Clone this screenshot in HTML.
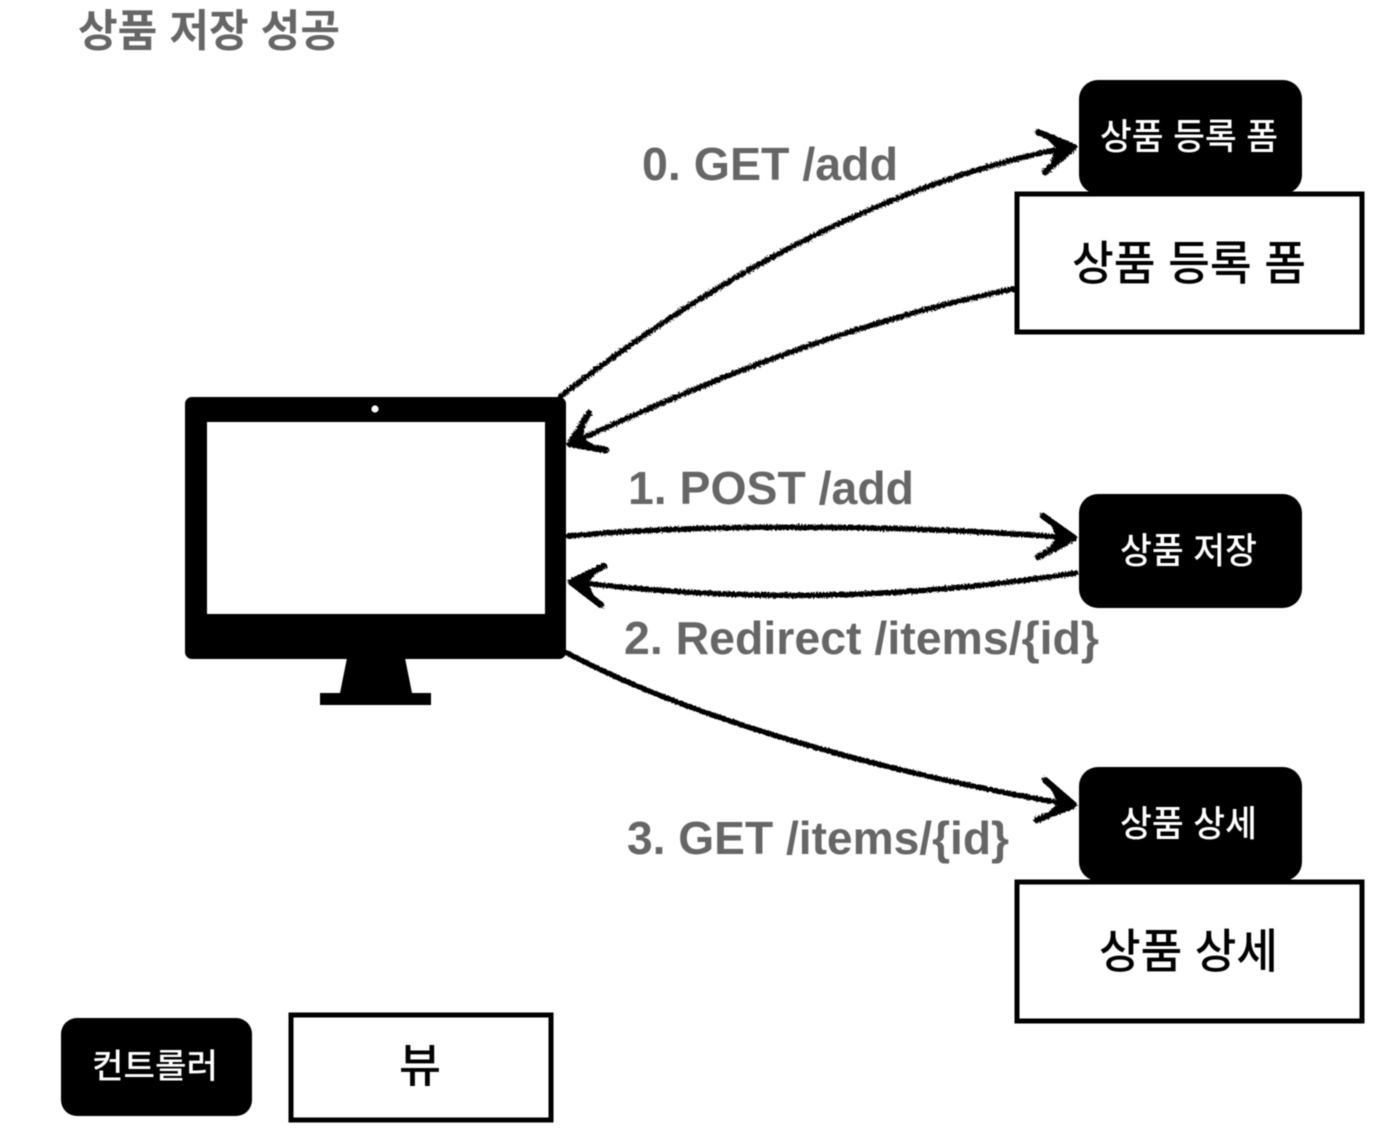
<!DOCTYPE html>
<html lang="ko"><head><meta charset="utf-8">
<style>
html,body{margin:0;padding:0;background:#fff;width:1392px;height:1128px;overflow:hidden}
svg{display:block;filter:blur(.45px)}
.g{font-family:"Liberation Sans","Noto Sans CJK KR",sans-serif;font-weight:700;fill:#666}
.k{font-family:"Liberation Sans","Noto Sans CJK KR",sans-serif;font-weight:500;fill:#000;text-anchor:start}
.w{fill:#fff}
</style></head><body>
<svg width="1392" height="1128" viewBox="0 0 1392 1128" xmlns="http://www.w3.org/2000/svg">
<defs>
<filter id="rough" x="-5%" y="-20%" width="110%" height="140%" filterUnits="objectBoundingBox">
<feTurbulence type="fractalNoise" baseFrequency="0.6" numOctaves="2" seed="4" result="n"/>
<feDisplacementMap in="SourceGraphic" in2="n" scale="4.5"/>
</filter>
</defs>
<rect width="1392" height="1128" fill="#fff"/>

<text class="g" x="78" y="46" font-size="44" textLength="262" lengthAdjust="spacingAndGlyphs">상품 저장 성공</text>

<!-- monitor -->
<rect x="185" y="397" width="381" height="262" rx="7" fill="#000"/>
<rect x="207" y="422" width="338" height="192" fill="#fff"/>
<circle cx="375" cy="409" r="3.6" fill="#fff"/>
<path d="M347 658H405L412 693H431V705H320V693H340Z" fill="#000"/>

<!-- controllers -->
<rect x="1079" y="80" width="223" height="114" rx="19" fill="#000"/>
<rect x="1079" y="494" width="223" height="114" rx="19" fill="#000"/>
<rect x="1079" y="767" width="223" height="114" rx="19" fill="#000"/>
<rect x="61" y="1018" width="191" height="98" rx="16" fill="#000"/>

<!-- views -->
<rect x="1017" y="194" width="345" height="138" fill="#fff" stroke="#000" stroke-width="5"/>
<rect x="1017" y="882" width="345" height="139" fill="#fff" stroke="#000" stroke-width="5"/>
<rect x="291" y="1015" width="260" height="105" fill="#fff" stroke="#000" stroke-width="5"/>

<!-- labels in boxes -->
<text class="k w" x="1100" y="149" font-size="36" textLength="178" lengthAdjust="spacingAndGlyphs">상품 등록 폼</text>
<text class="k" x="1072" y="280" font-size="47" textLength="234" lengthAdjust="spacingAndGlyphs">상품 등록 폼</text>
<text class="k w" x="1120" y="563" font-size="36" textLength="137" lengthAdjust="spacingAndGlyphs">상품 저장</text>
<text class="k w" x="1120" y="836" font-size="36" textLength="137" lengthAdjust="spacingAndGlyphs">상품 상세</text>
<text class="k" x="1099" y="968" font-size="47" textLength="179" lengthAdjust="spacingAndGlyphs">상품 상세</text>
<text class="k w" x="92" y="1078" font-size="34" textLength="126" lengthAdjust="spacingAndGlyphs">컨트롤러</text>
<text class="k" x="399" y="1082" font-size="46" textLength="42" lengthAdjust="spacingAndGlyphs">뷰</text>

<!-- connector labels -->
<text class="g" x="642" y="180" font-size="46" textLength="256" lengthAdjust="spacingAndGlyphs">0. GET /add</text>
<text class="g" x="628" y="504" font-size="46" textLength="286" lengthAdjust="spacingAndGlyphs">1. POST /add</text>
<text class="g" x="624" y="654" font-size="46" textLength="475" lengthAdjust="spacingAndGlyphs">2. Redirect /items/{id}</text>
<text class="g" x="627" y="854" font-size="46" textLength="382" lengthAdjust="spacingAndGlyphs">3. GET /items/{id}</text>

<!-- connectors -->
<g filter="url(#rough)" fill="none" stroke="#000" stroke-width="5.4" stroke-linecap="round" stroke-linejoin="round">
<path d="M561 396C700 288 880 183 1070 147"/>
<path d="M1038 132L1074 147L1045 172" stroke-width="6.5"/>
<path d="M1013 289C860 320 720 375 572 443"/>
<path d="M589 413L570 444L606 450" stroke-width="6.5"/>
<path d="M568 536C700 524 900 524 1072 538"/>
<path d="M1043 516L1074 538L1038 557" stroke-width="6.5"/>
<path d="M1076 573C900 600 740 602 574 582"/>
<path d="M604 566L571 582L601 605" stroke-width="6.5"/>
<path d="M567 653C690 718 880 772 1072 805"/>
<path d="M1045 780L1074 805L1037 820" stroke-width="6.5"/>
</g>
<g fill="#000" filter="url(#rough)">
<path d="M1046 138L1075 147L1050 163L1056 148Z"/>
<path d="M587 420L570 444L600 448L582 438Z"/>
<path d="M1050 522L1075 538L1046 552L1056 537Z"/>
<path d="M598 571L570 582L596 600L588 583Z"/>
<path d="M1050 787L1075 805L1044 815L1058 804Z"/>
</g>
</svg>
</body></html>
